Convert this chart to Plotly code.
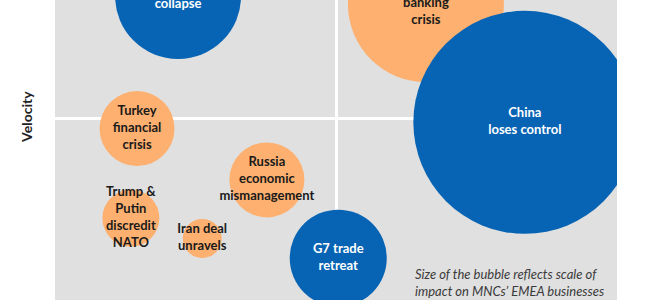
import plotly.graph_objects as go

# Data: risk bubbles (impact on x, velocity on y, bubble size = scale of impact)
labels = [
    "Eurozone<br>collapse",
    "Italian<br>banking<br>crisis",
    "China<br>loses control",
    "Turkey<br>financial<br>crisis",
    "Russia<br>economic<br>mismanagement",
    "Trump &<br>Putin<br>discredit<br>NATO",
    "Iran deal<br>unravels",
    "G7 trade<br>retreat",
]
impact = [2.19, 6.60, 8.36, 1.46, 3.77, 1.35, 2.62, 5.04]
velocity = [8.35, 8.13, 4.88, 4.71, 3.30, 2.25, 1.69, 1.15]
scale = [12.6, 15.6, 22.3, 7.5, 7.5, 5.7, 3.9, 9.7]
group = ["blue", "orange", "blue", "orange", "orange", "orange", "orange", "blue"]

BLUE = "#0764b4"
ORANGE = "#fdb06f"
colors = [BLUE if g == "blue" else ORANGE for g in group]
text_colors = ["#ffffff" if g == "blue" else "#1a1a1a" for g in group]

fig = go.Figure()
fig.add_trace(go.Scatter(
    x=impact, y=velocity, mode="markers+text",
    text=labels, textposition="middle center",
    textfont=dict(family="Lato", size=13, color=text_colors, weight="bold"),
    marker=dict(size=scale, sizemode="diameter", sizeref=0.1,
                color=colors, opacity=1, line=dict(width=0)),
    cliponaxis=True, hoverinfo="skip", showlegend=False,
))

fig.add_annotation(
    x=6.37, y=0.47, xref="x", yref="y", xanchor="left", yanchor="middle",
    align="left", showarrow=False,
    text="<i>Size of the bubble reflects scale of<br>impact on MNCs’ EMEA businesses</i>",
    font=dict(family="Lato", size=13, color="#3a3a3a"),
)
fig.add_annotation(
    x=-0.0498, y=5.03, xref="paper", yref="y", xanchor="center", yanchor="middle",
    textangle=-90, showarrow=False, text="<b>Velocity</b>",
    font=dict(family="Lato", size=14, color="#222222"),
)

fig.update_xaxes(range=[0, 10], tickvals=[5], showticklabels=False, showgrid=True,
                 gridcolor="white", gridwidth=3, zeroline=False, showline=False, ticks="")
fig.update_yaxes(range=[0, 8.242], tickvals=[5], showticklabels=False, showgrid=True,
                 gridcolor="white", gridwidth=3, zeroline=False, showline=False, ticks="")

fig.update_layout(
    width=670, height=300,
    margin=dict(l=55, r=53, t=0, b=0),
    plot_bgcolor="#e0e0e0", paper_bgcolor="white",
)

fig.write_html("out.html")
